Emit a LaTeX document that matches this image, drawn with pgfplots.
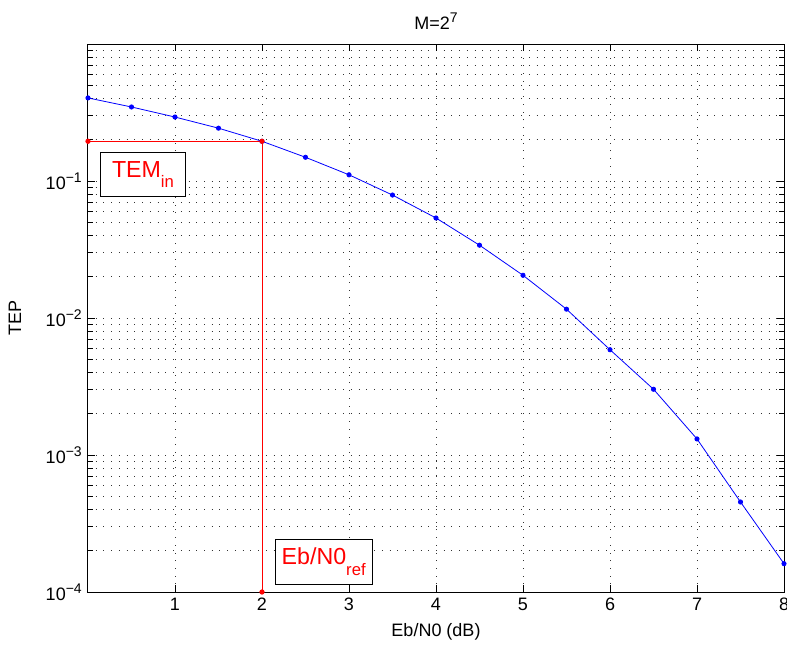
\documentclass[border=0pt]{standalone}
\usepackage{fontspec}
\setmainfont{Liberation Sans}
\usepackage{pgfplots}
\pgfplotsset{compat=1.18}
\newcommand{\msup}[1]{\raisebox{0.75ex}{\fontsize{10.5}{12}\selectfont #1}}
\begin{document}
\fontsize{13.5}{16}\selectfont
\begin{tikzpicture}
\begin{axis}[
  scale only axis, width=522pt, height=411pt,
  xmin=0, xmax=8, ymode=log, ymin=1e-4, ymax=1,
  xtick={1,2,3,4,5,6,7,8},
  ytick={1e-4,1e-3,1e-2,1e-1},
  yticklabels={10\msup{−4},10\msup{−3},10\msup{−2},10\msup{−1}},
  minor ytick={2e-4,3e-4,4e-4,5e-4,6e-4,7e-4,8e-4,9e-4,
               2e-3,3e-3,4e-3,5e-3,6e-3,7e-3,8e-3,9e-3,
               2e-2,3e-2,4e-2,5e-2,6e-2,7e-2,8e-2,9e-2,
               0.2,0.3,0.4,0.5,0.6,0.7,0.8,0.9},
  grid=both,
  major grid style={black!80, line width=0.5pt, dash pattern=on 0.6pt off 5.2pt},
  minor grid style={black!80, line width=0.5pt, dash pattern=on 0.6pt off 5.2pt},
  tick align=inside,
  major tick length=5pt, minor tick length=3.5pt,
  every tick/.style={black, line width=0.5pt},
  axis line style={black, line width=0.75pt},
  /pgf/number format/assume math mode=true,
  tick label style={font=\fontsize{13.5}{16}\selectfont},
  label style={font=\fontsize{13.5}{16}\selectfont},
  title style={font=\fontsize{13.5}{16}\selectfont},
  title={M=2\msup{7}},
  xlabel={Eb/N0 (dB)},
  ylabel={TEP},
  ylabel style={at={(axis description cs:-0.105,0.5)}, anchor=center},
  clip=false,
]
\addplot[blue, line width=0.6pt, mark=*, mark size=1.6pt] coordinates {
  (0,0.404) (0.5,0.347) (1,0.293) (1.5,0.243) (2,0.195) (2.5,0.149)
  (3,0.111) (3.5,0.079) (4,0.0537) (4.5,0.034) (5,0.0205) (5.5,0.0116)
  (6,0.00587) (6.5,0.00302) (7,0.00131) (7.5,0.000454) (8,0.000161)
};
\addplot[draw=red, line width=0.7pt, mark=*, mark size=1.6pt, mark options={fill=red, draw=red}] coordinates {
  (0,0.195) (2,0.195) (2,0.0001)
};
\node[draw=black, line width=0.75pt, fill=white, minimum width=64pt, minimum height=33.5pt, inner sep=0pt, text=red, font=\fontsize{17.4}{20}\selectfont]
  at (axis cs:0.632,0.1114) {TEM\raisebox{-8pt}{\fontsize{12.5}{14}\selectfont in}};
\node[draw=black, line width=0.75pt, fill=white, minimum width=73pt, minimum height=33.5pt, inner sep=0pt, text=red, font=\fontsize{17.4}{20}\selectfont]
  at (axis cs:2.709,1.66e-4) {Eb/N0\raisebox{-8pt}{\fontsize{12.5}{14}\selectfont ref}};
\end{axis}
\pgfresetboundingbox
\path[use as bounding box] ([shift={(-66pt,-44.25pt)}]current axis.south west) rectangle ([shift={(524.25pt,444pt)}]current axis.south west);
\end{tikzpicture}
\end{document}
